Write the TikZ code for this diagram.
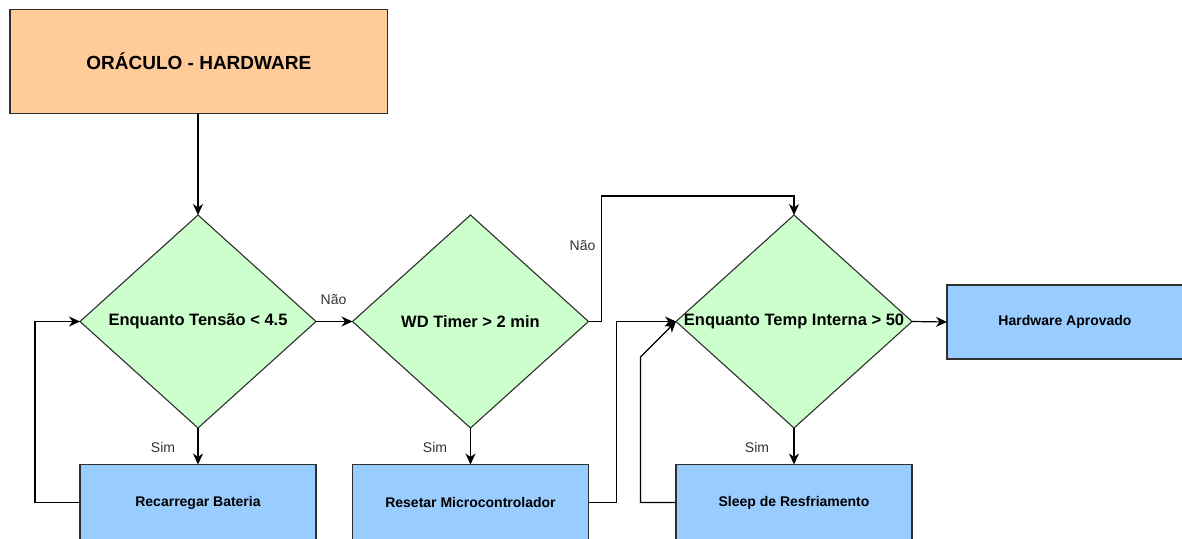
\documentclass[tikz,border=0pt]{standalone}
\usepackage{fontspec}
\setmainfont{Liberation Sans}
\usetikzlibrary{shapes.geometric,arrows.meta}
\definecolor{edgegray}{HTML}{2F2F2F}
\definecolor{titlefill}{HTML}{FFCC99}
\definecolor{decfill}{HTML}{CCFFCC}
\definecolor{actfill}{HTML}{99CCFF}
\definecolor{labelgray}{HTML}{333333}
\tikzset{
  base/.style={draw=edgegray, line width=1.1pt, inner sep=0pt, outer sep=0pt},
  titlebox/.style={base, rectangle, fill=titlefill, minimum width=377.7pt, minimum height=104.3pt,
    font=\fontsize{19}{22}\selectfont\bfseries},
  decision/.style={base, diamond, fill=decfill, minimum width=236pt, minimum height=213pt,
    font=\fontsize{16.5}{19}\selectfont\bfseries},
  action/.style={base, rectangle, fill=actfill, minimum width=236pt, minimum height=76pt,
    font=\fontsize{14}{17}\selectfont\bfseries},
  flow/.style={draw=black, line width=1.2pt, -{Stealth[length=11pt,width=10pt,inset=3.5pt]}},
  branch/.style={text=labelgray, font=\fontsize{14}{17}\selectfont, inner sep=0pt},
}
\newcommand{\ctext}[1]{\makebox[0pt]{#1}}
\begin{document}
\begin{tikzpicture}[x=1pt,y=-1pt]
  \useasboundingbox (0,0) rectangle (1182,538);
  \clip (0,0) rectangle (1182,538);

  % blocks
  \node[titlebox] (title) at (198.8,61.2) {ORÁCULO - HARDWARE};
  \node[decision] (d1) at (198,321.5) {\ctext{Enquanto Tensão < 4.5}};
  \node[decision] (d2) at (470.5,321.5) {\ctext{WD Timer > 2 min}};
  \node[decision] (d3) at (794,321.5) {\ctext{Enquanto Temp Interna > 50}};
  \node[action] (a1) at (198,502.5) {Recarregar Bateria};
  \node[action] (a2) at (470.5,502.5) {Resetar Microcontrolador};
  \node[action] (a3) at (794,502.5) {Sleep de Resfriamento};
  \node[action, minimum height=74pt] (ok) at (1065,322) {Hardware Aprovado};

  % bend points of the routed connectors
  \coordinate (t0) at (d1.north |- title.south);
  \coordinate (l1) at (35,502.5);
  \coordinate (up2) at (601.5,321.5);
  \coordinate (top2) at (601.5,196);
  \coordinate (r2) at (616.5,502.5);
  \coordinate (r3a) at (640.5,502.5);
  \coordinate (r3b) at (640.5,357);

  % connectors
  \draw[flow] (t0) -- (d1.north);
  \draw[flow] (d1.east) -- (d2.west);
  \draw[flow] (d1.south) -- (a1.north);
  \draw[flow] (a1.west) -- (l1) |- (d1.west);
  \draw[flow] (d2.south) -- (a2.north);
  \draw[flow] (d2.east) -- (up2) -- (top2) -| (d3.north);
  \draw[flow] (a2.east) -- (r2) |- (d3.west);
  \draw[flow] (a3.west) -- (r3a) -- (r3b) -- (d3.west);
  \draw[flow] (d3.south) -- (a3.north);
  \draw[flow] (d3.east) -- (ok.west);

  % branch labels
  \node[branch] (n1) at (333.5,300) {Não};
  \node[branch] (s1) at (163,447) {Sim};
  \node[branch] (s2) at (435,447) {Sim};
  \node[branch] (n2) at (582.5,246) {Não};
  \node[branch] (s3) at (757,447) {Sim};
\end{tikzpicture}
\end{document}
